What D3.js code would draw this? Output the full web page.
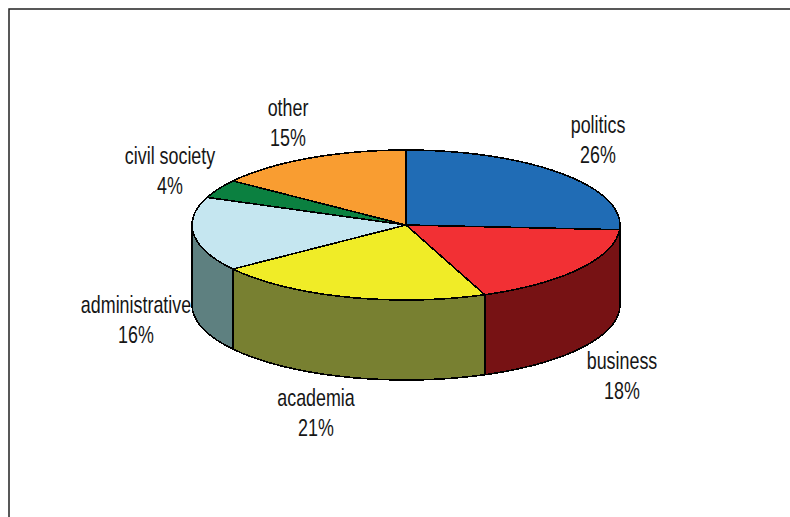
<!DOCTYPE html>
<html>
<head>
<meta charset="utf-8">
<script src="https://cdn.jsdelivr.net/npm/d3@7/dist/d3.min.js"></script>
<style>
  html, body { margin: 0; padding: 0; background: #fff; }
  svg { display: block; }
  text { font-family: "Liberation Sans", Arial, sans-serif; font-size: 24px; fill: #161616; text-anchor: middle; }
</style>
</head>
<body>
<svg id="chart" width="790" height="517"></svg>
<script>
const categories = ["politics", "business", "academia", "administrative", "civil society", "other"];
const shares = [26, 18, 21, 16, 4, 15];
const topColors = ["#206cb5", "#f23034", "#f0ec27", "#c5e6f0", "#0b8040", "#f99d31"];
const wallColors = ["#123a63", "#771214", "#788031", "#5e8080", "#064522", "#8a5519"];
const labelCentres = [[598, 125], [622, 361], [316, 398], [136, 305], [170, 156], [288, 108]];

const width = 790, height = 517;
const cx = 406, cy = 225, rx = 214, ry = 75, depth = 80;
const lineGap = 30;
const condense = 0.745;

const svg = d3.select("#chart");

// Chart frame: only the top and left rules reach the image edge
svg.append("path")
  .attr("d", d3.line()([[9, height], [9, 9], [width, 9]]))
  .attr("fill", "none")
  .attr("stroke", "#222")
  .attr("stroke-width", 1.5);

// Pie layout runs clockwise from twelve o'clock, in order
const slices = d3.pie().sort(null).value(d => d)(shares);

// Tilted disc: a circle angle maps onto an ellipse point
const sx = d3.scaleLinear().domain([-1, 1]).range([cx - rx, cx + rx]);
const sy = d3.scaleLinear().domain([-1, 1]).range([cy - ry, cy + ry]);
const rim = (a, drop = 0) => [sx(Math.sin(a)), sy(-Math.cos(a)) + drop];
const rimArc = (a0, a1, drop = 0) => {
  const step = (4 * Math.PI) / 180;
  const n = Math.max(1, Math.ceil((a1 - a0) / step));
  return d3.range(n + 1).map(i => rim(a0 + (a1 - a0) * i / n, drop));
};
const outline = d3.line();

// Side walls exist only on the front half of the disc
const frontStart = Math.PI / 2, frontEnd = 3 * Math.PI / 2;
svg.append("g").selectAll("path")
  .data(slices.filter(s => s.endAngle > frontStart && s.startAngle < frontEnd))
  .join("path")
  .attr("d", s => {
    const a0 = Math.max(s.startAngle, frontStart);
    const a1 = Math.min(s.endAngle, frontEnd);
    return outline([...rimArc(a0, a1), ...rimArc(a0, a1, depth).reverse()]) + "Z";
  })
  .attr("fill", s => wallColors[s.index])
  .attr("stroke", "#000")
  .attr("stroke-width", 1.6)
  .attr("stroke-linejoin", "round")
  .attr("shape-rendering", "crispEdges");

// Top faces of the slices
svg.append("g").selectAll("path")
  .data(slices)
  .join("path")
  .attr("d", s => outline([[cx, cy], ...rimArc(s.startAngle, s.endAngle)]) + "Z")
  .attr("fill", s => topColors[s.index])
  .attr("stroke", "#000")
  .attr("stroke-width", 1.6)
  .attr("stroke-linejoin", "round")
  .attr("shape-rendering", "crispEdges");

// Two-line labels: category name above its percentage, set condensed
const labels = svg.append("g").selectAll("g")
  .data(categories)
  .join("g")
  .attr("transform", (d, i) => `translate(${labelCentres[i][0]},${labelCentres[i][1]}) scale(${condense},1)`);
labels.append("text").attr("y", 8).text(d => d);
labels.append("text").attr("y", 8 + lineGap).text((d, i) => `${shares[i]}%`);
</script>
</body>
</html>
